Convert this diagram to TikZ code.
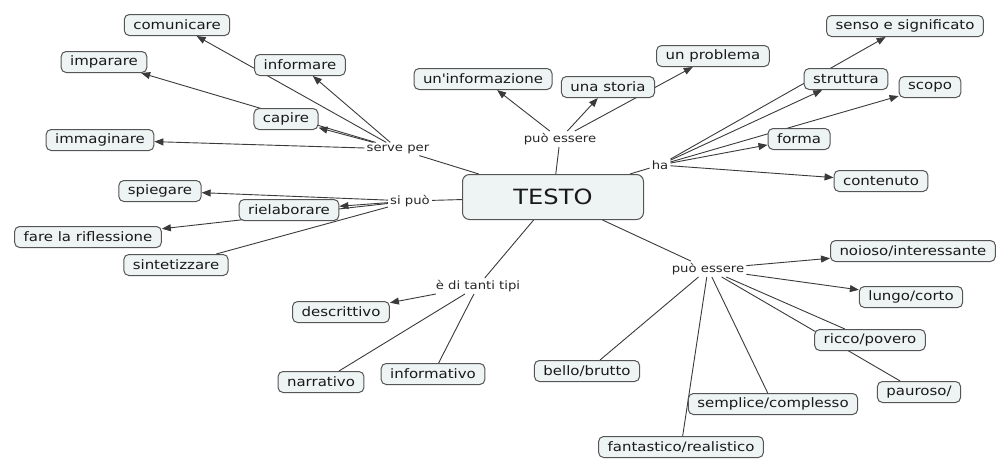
\documentclass[tikz,border=0pt]{standalone}
\usepackage{fontspec}
\setmainfont{DejaVu Sans}[FakeStretch=1.15]
\usetikzlibrary{arrows.meta,backgrounds}
\definecolor{boxfill}{HTML}{EEF4F4}
\definecolor{boxline}{HTML}{555555}
\definecolor{linkline}{HTML}{3A3A3A}

\begin{document}
\begin{tikzpicture}[
    concept/.style={draw=boxline, fill=boxfill, rounded corners=5pt,
      line width=1pt, text=black!90, inner xsep=9pt, inner ysep=0pt,
      minimum height=21pt, font=\fontsize{13}{15}\selectfont},
    linkword/.style={inner sep=2pt, text=black!85,
      font=\fontsize{11.5}{13}\selectfont},
    link/.style={draw=linkline, line width=0.9pt},
    arrow/.style={link, -{Triangle[length=9pt,width=7pt]}}]

  \useasboundingbox (0pt,0pt) rectangle (996pt,-458pt);

  \node[concept, minimum width=181pt, minimum height=45pt, rounded corners=7pt,
    font=\fontsize{21}{24}\selectfont] (testo) at (553pt,-197pt) {TESTO};

  % serve per
  \node[linkword] (servePer) at (398pt,-149pt) {serve per};
  \node[concept] (comunicare) at (177pt, -25pt) {comunicare};
  \node[concept] (imparare) at (104pt, -62pt) {imparare};
  \node[concept] (informare) at (300pt, -65pt) {informare};
  \node[concept] (capire) at (286pt,-119pt) {capire};
  \node[concept] (immaginare) at (100pt,-140pt) {immaginare};

  % si puo'
  \node[linkword] (siPuo) at (410pt,-201pt) {si può};
  \node[concept] (spiegare) at (160pt,-191pt) {spiegare};
  \node[concept] (rielaborare) at (289pt,-210pt) {rielaborare};
  \node[concept] (riflessione) at ( 88pt,-237pt) {fare la riflessione};
  \node[concept] (sintetizzare) at (176pt,-265pt) {sintetizzare};

  % puo' essere (top)
  \node[linkword] (puoEssereTop) at (560pt,-139pt) {può essere};
  \node[concept] (informazione) at (483pt, -79pt) {un\textquotesingle informazione};
  \node[concept] (storia) at (608pt, -87pt) {una storia};
  \node[concept] (problema) at (713pt, -56pt) {un problema};

  % ha
  \node[linkword] (ha) at (660pt,-165pt) {ha};
  \node[concept] (senso) at (905pt, -26pt) {senso e significato};
  \node[concept] (struttura) at (846pt, -79pt) {struttura};
  \node[concept] (scopo) at (930pt, -87pt) {scopo};
  \node[concept] (forma) at (799pt,-139pt) {forma};
  \node[concept] (contenuto) at (881pt,-181pt) {contenuto};

  % e' di tanti tipi
  \node[linkword] (tantiTipi) at (478pt,-286pt) {è di tanti tipi};
  \node[concept] (descrittivo) at (341pt,-312pt) {descrittivo};
  \node[concept] (narrativo) at (321pt,-382pt) {narrativo};
  \node[concept] (informativo) at (433pt,-374pt) {informativo};

  % puo' essere (bottom)
  \node[linkword] (puoEssereBot) at (708pt,-269pt) {può essere};
  \node[concept, anchor=west] (noioso) at (830pt,-251pt) {noioso/interessante};
  \node[concept] (lungo) at (911pt,-297pt) {lungo/corto};
  \node[concept] (ricco) at (870pt,-340pt) {ricco/povero};
  \node[concept] (pauroso) at (919pt,-392pt) {pauroso/};
  \node[concept] (semplice) at (773pt,-404pt) {semplice/complesso};
  \node[concept] (fantastico) at (681pt,-447pt) {fantastico/realistico};
  \node[concept] (bello) at (587pt,-371pt) {bello/brutto};

  \begin{scope}[on background layer]
    \draw[link] (testo) -- (servePer);
    \draw[link] (testo) -- (siPuo);
    \draw[link] (testo) -- (puoEssereTop);
    \draw[link] (testo) -- (ha);
    \draw[link] (testo) -- (tantiTipi);
    \draw[link] (testo) -- (puoEssereBot);

    \foreach \to in {comunicare,imparare,informare,capire,immaginare}
      \draw[arrow] (servePer) -- (\to);
    \foreach \to in {spiegare,rielaborare,riflessione}
      \draw[arrow] (siPuo) -- (\to);
    \draw[link] (siPuo) -- (sintetizzare);
    \foreach \to in {informazione,storia,problema}
      \draw[arrow] (puoEssereTop) -- (\to);
    \foreach \to in {senso,struttura,scopo,forma,contenuto}
      \draw[arrow] (ha) -- (\to);
    \draw[arrow] (tantiTipi) -- (descrittivo);
    \draw[link] (tantiTipi) -- (narrativo);
    \draw[link] (tantiTipi) -- (informativo);
    \draw[arrow] (puoEssereBot) -- (noioso);
    \draw[arrow] (puoEssereBot) -- (lungo);
    \foreach \to in {ricco,pauroso,semplice,fantastico,bello}
      \draw[link] (puoEssereBot) -- (\to);
  \end{scope}

\end{tikzpicture}
\end{document}
